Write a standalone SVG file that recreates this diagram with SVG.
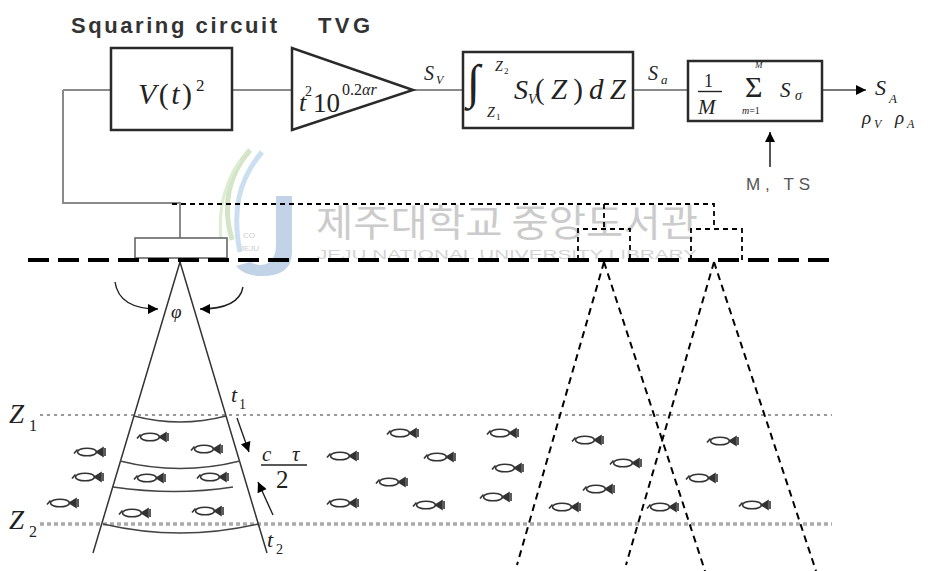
<svg xmlns="http://www.w3.org/2000/svg" xmlns:xlink="http://www.w3.org/1999/xlink" width="930" height="571" viewBox="0 0 930 571">
  <style>
    .lbl { font-family: "Liberation Sans", Arial, sans-serif; }
    .m { font-family: "Liberation Serif", "Times New Roman", serif; fill: #222; }
    .mi { font-family: "Liberation Serif", "Times New Roman", serif; font-style: italic; fill: #222; }
    .box { fill: #fff; stroke: #2a2a2a; stroke-width: 2.5; }
    .wire { fill: none; stroke: #8a8a8a; stroke-width: 2; }
    .beam { fill: none; stroke: #333; stroke-width: 1.5; }
    .arc { fill: none; stroke: #444; stroke-width: 1.4; }
    .dbeam { fill: none; stroke: #000; stroke-width: 2; stroke-dasharray: 7 5; }
    .dlink { fill: none; stroke: #000; stroke-width: 1.8; stroke-dasharray: 5 4; }
  </style>
  <defs>
    <marker id="ah" viewBox="0 0 10 10" refX="10" refY="5" markerWidth="14" markerHeight="10" markerUnits="userSpaceOnUse" orient="auto">
      <path d="M0,0 L10,5 L0,10 Z" fill="#000"/>
    </marker>
    <g id="fish" fill="none" stroke="#333" stroke-width="1.6">
      <path d="M-16,1.5 L-12.5,-2.5"/>
      <ellipse cx="-3" cy="0" rx="9.5" ry="3.8"/>
      <path d="M6.5,0 L13,-4 L13,4 Z" fill="#333"/>
      <path d="M15,-4 V4"/>
    </g>
  </defs>

  <rect width="930" height="571" fill="#fff"/>

  <!-- library watermark -->
  <g id="watermark" opacity="0.9">
    <path d="M250,150 C228,175 222,205 232,240" fill="none" stroke="#cfe3c0" stroke-width="5"/>
    <path d="M262,152 C238,180 232,212 240,252" fill="none" stroke="#c6dcf0" stroke-width="5"/>
    <path d="M240,160 C220,190 216,222 224,258" fill="none" stroke="#d9ecd0" stroke-width="3"/>
    <path d="M276,196 H292 V252 Q292,276 262,276 Q244,276 236,266 L250,262 Q262,268 270,262 Q276,256 276,246 Z" fill="#bccfe6"/>
    <text x="243" y="238" class="lbl" font-size="8" fill="#c8c8c8">CO</text>
    <text x="240" y="251" class="lbl" font-size="8" fill="#c8c8c8">JEJU</text>
    <text x="316" y="236" font-family="'Noto Sans CJK KR', sans-serif" font-size="38" fill="#c6c6c6" textLength="382" lengthAdjust="spacingAndGlyphs">제주대학교 중앙도서관</text>
    <text x="317" y="259" class="lbl" font-size="12" fill="#cfcfcf" textLength="380" lengthAdjust="spacingAndGlyphs">JEJU NATIONAL UNIVERSITY LIBRARY</text>
  </g>

  <!-- signal chain connectors -->
  <g id="connectors">
    <path class="wire" d="M63,90 V203 H180 V238"/>
    <path class="wire" d="M63,90 H111"/>
    <path class="wire" d="M232,90 H292"/>
    <path class="wire" d="M413,90 H463"/>
    <path class="wire" d="M633,90 H688"/>
    <path d="M822,90 H866" fill="none" stroke="#777" stroke-width="2" marker-end="url(#ah)"/>
    <path d="M770,167 V132" fill="none" stroke="#555" stroke-width="2" marker-end="url(#ah)"/>
    <path class="dlink" d="M172,204 H714 V229"/>
    <path class="dlink" d="M604,204 V229"/>
  </g>

  <!-- squaring circuit -->
  <g id="squaring">
    <text x="71" y="33" class="lbl" font-size="22" font-weight="bold" fill="#333" textLength="206" lengthAdjust="spacing">Squaring circuit</text>
    <rect class="box" x="111" y="48" width="121" height="82"/>
    <text x="138" y="104" class="m" font-size="30" textLength="54" lengthAdjust="spacing"><tspan font-style="italic">V</tspan>(<tspan font-style="italic">t</tspan>)</text>
    <text x="196" y="91" class="m" font-size="17">2</text>
  </g>

  <!-- time varied gain -->
  <g id="tvg">
    <text x="318" y="33" class="lbl" font-size="22" font-weight="bold" fill="#333" textLength="52" lengthAdjust="spacing">TVG</text>
    <path class="box" d="M292,48 L292,130 L413,90 Z"/>
    <text x="299" y="111" class="mi" font-size="26">t</text>
    <text x="305" y="96" class="m" font-size="14">2</text>
    <text x="313" y="112" class="m" font-size="27">10</text>
    <text x="342" y="95" class="m" font-size="16">0.2<tspan font-style="italic">αr</tspan></text>
    <text x="424" y="80" class="mi" font-size="20">S</text>
    <text x="436" y="84" class="mi" font-size="12">V</text>
  </g>

  <!-- depth integrator -->
  <g id="integrator">
    <rect class="box" x="463" y="52" width="170" height="76"/>
    <text x="467" y="98" class="m" font-size="48">∫</text>
    <text x="495" y="71" class="mi" font-size="14">Z</text>
    <text x="504" y="74" class="m" font-size="9">2</text>
    <text x="487" y="117" class="mi" font-size="14">Z</text>
    <text x="496" y="120" class="m" font-size="9">1</text>
    <text x="514" y="99" class="mi" font-size="28">S</text>
    <text x="528" y="104" class="mi" font-size="14">V</text>
    <text x="535" y="99" class="m" font-size="29" textLength="48" lengthAdjust="spacing">(<tspan font-style="italic">Z</tspan>)</text>
    <text x="589" y="99" class="mi" font-size="29" textLength="37" lengthAdjust="spacing">dZ</text>
    <text x="648" y="80" class="mi" font-size="20">S</text>
    <text x="661" y="84" class="mi" font-size="13">a</text>
  </g>

  <!-- averaging over M pings -->
  <g id="averager">
    <rect class="box" x="688" y="61" width="134" height="60"/>
    <text x="704" y="87" class="m" font-size="18">1</text>
    <line x1="698" y1="91.5" x2="722" y2="91.5" stroke="#222" stroke-width="1.4"/>
    <text x="698" y="114" class="mi" font-size="21">M</text>
    <text x="745" y="97" class="m" font-size="30">Σ</text>
    <text x="755" y="68" class="mi" font-size="9">M</text>
    <text x="742" y="114" class="m" font-size="10"><tspan font-style="italic">m</tspan>=1</text>
    <text x="780" y="97" class="mi" font-size="21">S</text>
    <text x="795" y="100" class="mi" font-size="14">σ</text>
    <text x="746" y="190" class="lbl" font-size="17" fill="#555" textLength="64" lengthAdjust="spacing">M, TS</text>
  </g>

  <!-- outputs -->
  <g id="outputs">
    <text x="875" y="95" class="mi" font-size="22">S</text>
    <text x="889" y="103" class="mi" font-size="13">A</text>
    <text x="862" y="124" class="mi" font-size="19">ρ</text>
    <text x="874" y="128" class="mi" font-size="12">V</text>
    <text x="895" y="124" class="mi" font-size="19">ρ</text>
    <text x="907" y="128" class="mi" font-size="12">A</text>
  </g>

  <!-- depth layer limits -->
  <g id="layers">
    <line x1="40" y1="415" x2="832" y2="415" stroke="#999" stroke-width="2" stroke-dasharray="3 4"/>
    <line x1="40" y1="524" x2="832" y2="524" stroke="#aaa" stroke-width="3.5" stroke-dasharray="4 3"/>
    <text x="9" y="423" class="mi" font-size="27">Z</text>
    <text x="29" y="431" class="m" font-size="16">1</text>
    <text x="9" y="529" class="mi" font-size="27">Z</text>
    <text x="29" y="537" class="m" font-size="16">2</text>
  </g>

  <!-- main transducer and beam -->
  <g id="transducer">
    <rect x="135" y="238" width="92" height="20" fill="#fff" stroke="#666" stroke-width="1.6"/>
    <path class="beam" d="M180,262 L93,553 M180,262 L267,553"/>
    <text x="171" y="318" class="mi" font-size="19">φ</text>
    <path d="M115,282 Q119,309 158,309" fill="none" stroke="#222" stroke-width="1.4" marker-end="url(#ah)"/>
    <path d="M243,287 Q239,309 200,309" fill="none" stroke="#222" stroke-width="1.4" marker-end="url(#ah)"/>
    <path class="arc" d="M134,416 Q180,428 226,416"/>
    <path class="arc" d="M120,461 Q180,476 240,461"/>
    <path class="arc" d="M113,487 Q175,496 233,487"/>
    <path class="arc" d="M103,524 Q180,542 258,524"/>
    <text x="231" y="402" class="mi" font-size="22">t</text>
    <text x="239" y="409" class="m" font-size="14">1</text>
    <text x="267" y="547" class="mi" font-size="22">t</text>
    <text x="276" y="554" class="m" font-size="14">2</text>
    <path d="M237,418 L249,452" fill="none" stroke="#222" stroke-width="1.4" marker-end="url(#ah)"/>
    <path d="M273,515 L258,482" fill="none" stroke="#222" stroke-width="1.4" marker-end="url(#ah)"/>
    <text x="262" y="461" class="mi" font-size="21">c</text>
    <text x="292" y="461" class="mi" font-size="21">τ</text>
    <line x1="261" y1="465" x2="307" y2="465" stroke="#222" stroke-width="1.5"/>
    <text x="276" y="488" class="m" font-size="25">2</text>
  </g>

  <!-- sea surface -->
  <g id="surface">
    <line x1="28" y1="260" x2="835" y2="260" stroke="#000" stroke-width="4" stroke-dasharray="21 9"/>
  </g>

  <!-- later transducer positions -->
  <g id="transducer-2">
    <path class="dlink" d="M578,260 V229 H630 V260"/>
    <path class="dbeam" d="M604,262 L517,565 M604,262 L705,571"/>
  </g>
  <g id="transducer-3">
    <path class="dlink" d="M691,260 V229 H742 V260"/>
    <path class="dbeam" d="M714,262 L626,565 M714,262 L816,571"/>
  </g>

  <!-- fish school -->
  <g id="fish-school">
    <use xlink:href="#fish" x="153" y="437"/>
    <use xlink:href="#fish" x="207" y="449"/>
    <use xlink:href="#fish" x="90" y="452"/>
    <use xlink:href="#fish" x="88" y="477"/>
    <use xlink:href="#fish" x="150" y="478"/>
    <use xlink:href="#fish" x="213" y="477"/>
    <use xlink:href="#fish" x="63" y="503"/>
    <use xlink:href="#fish" x="135" y="513"/>
    <use xlink:href="#fish" x="208" y="511"/>
    <use xlink:href="#fish" x="403" y="433"/>
    <use xlink:href="#fish" x="343" y="456"/>
    <use xlink:href="#fish" x="440" y="457"/>
    <use xlink:href="#fish" x="392" y="482"/>
    <use xlink:href="#fish" x="343" y="503"/>
    <use xlink:href="#fish" x="429" y="505"/>
    <use xlink:href="#fish" x="503" y="433"/>
    <use xlink:href="#fish" x="508" y="468"/>
    <use xlink:href="#fish" x="496" y="497"/>
    <use xlink:href="#fish" x="588" y="440"/>
    <use xlink:href="#fish" x="626" y="463"/>
    <use xlink:href="#fish" x="599" y="489"/>
    <use xlink:href="#fish" x="565" y="507"/>
    <use xlink:href="#fish" x="663" y="507"/>
    <use xlink:href="#fish" x="723" y="441"/>
    <use xlink:href="#fish" x="702" y="478"/>
    <use xlink:href="#fish" x="755" y="505"/>
  </g>
</svg>
